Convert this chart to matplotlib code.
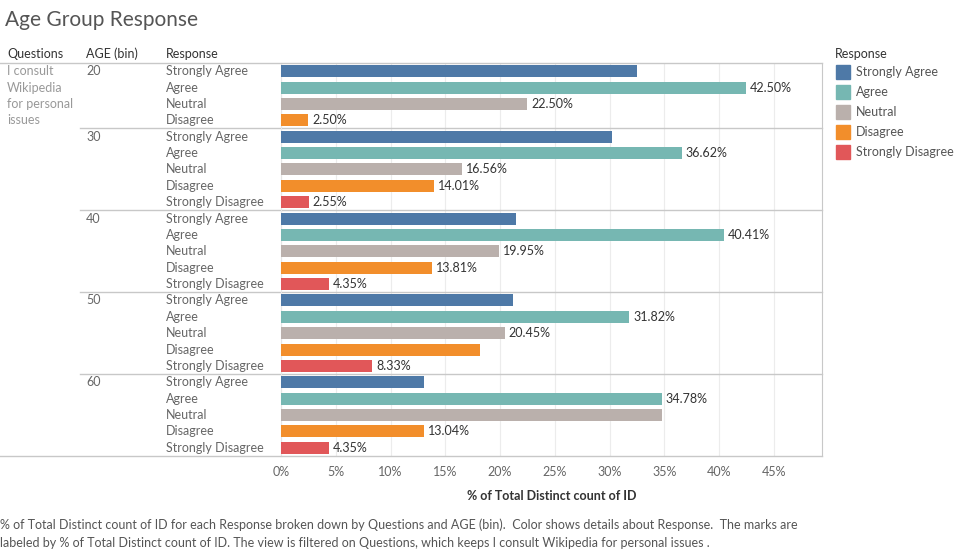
import matplotlib.pyplot as plt
from matplotlib.transforms import blended_transform_factory
from matplotlib.patches import Rectangle

# data
ages = ['20', '30', '40', '50', '60']
responses = ['Strongly Agree', 'Agree', 'Neutral', 'Disagree', 'Strongly Disagree']
colors = ['#4e79a7', '#76b7b2', '#bab0ac', '#f28e2b', '#e15759']

pct_20 = [32.50, 42.50, 22.50, 2.50]
pct_30 = [30.26, 36.62, 16.56, 14.01, 2.55]
pct_40 = [21.48, 40.41, 19.95, 13.81, 4.35]
pct_50 = [21.21, 31.82, 20.45, 18.18, 8.33]
pct_60 = [13.04, 34.78, 34.78, 13.04, 4.35]
groups = [pct_20, pct_30, pct_40, pct_50, pct_60]

# which bars carry a value label in the original
shown_20 = [0, 1, 1, 1]
shown_30 = [0, 1, 1, 1, 1]
shown_40 = [0, 1, 1, 1, 1]
shown_50 = [0, 1, 1, 0, 1]
shown_60 = [0, 1, 0, 1, 1]
shown = [shown_20, shown_30, shown_40, shown_50, shown_60]

xticks = [0, 5, 10, 15, 20, 25, 30, 35, 40, 45]

plt.rcParams['font.family'] = ['Lato', 'DejaVu Sans']

W, H = 973, 553
fig = plt.figure(figsize=(W / 100, H / 100), dpi=100)
x0, x1, y0, y1 = 281, 822, 63, 456
ax = fig.add_axes([x0 / W, 1 - y1 / H, (x1 - x0) / W, (y1 - y0) / H])

nrows = sum(len(g) for g in groups)
ax.set_ylim(nrows, 0)
ax.set_xlim(0, 49.4)

fx = blended_transform_factory(fig.transFigure, ax.transData)
def px(x):
    return x / W

row = 0
bounds = []
for gi, (vals, flags) in enumerate(zip(groups, shown)):
    fig.text(px(86), row + 0.5, ages[gi], transform=fx, fontsize=9,
             color='#666666', va='center')
    for ri, v in enumerate(vals):
        yc = row + 0.5
        ax.barh(yc, v, height=0.74, color=colors[ri], zorder=3)
        fig.text(px(166), yc, responses[ri], transform=fx, fontsize=9,
                 color='#666666', va='center')
        if flags[ri]:
            ax.text(v + 0.35, yc, '%.2f%%' % v, fontsize=9, color='#333333',
                    va='center', zorder=4)
        row += 1
    bounds.append(row)

# question text
q_lines = ['I consult', 'Wikipedia', 'for personal', 'issues']
for i, t in enumerate(q_lines):
    fig.text(px(7), i + 0.5, t, transform=fx, fontsize=9, color='#999999', va='center')

# header
for x, t in [(7, 'Questions'), (86, 'AGE (bin)'), (166, 'Response')]:
    fig.text(px(x), 1 - 54 / H, t, fontsize=9, color='#333333', va='center')

# separators
fig.add_artist(plt.Line2D([0, px(x1)], [1 - y0 / H, 1 - y0 / H], color='#c8c8c8', lw=1))
fig.add_artist(plt.Line2D([0, px(x1)], [1 - y1 / H, 1 - y1 / H], color='#c8c8c8', lw=1))
for b in bounds[:-1]:
    ax.plot([px(80), px(x1)], [b, b], transform=fx, color='#c8c8c8', lw=1, clip_on=False)

for s in ['top', 'bottom']:
    ax.spines[s].set_visible(False)
ax.spines['left'].set_color('#e6e6e6')
ax.spines['right'].set_color('#c8c8c8')
ax.set_yticks([])
ax.set_xticks(xticks)
ax.set_xticklabels(['%d%%' % t for t in xticks], fontsize=9, color='#666666')
ax.tick_params(axis='x', length=0, pad=7)
ax.grid(axis='x', color='#ececec', lw=0.8, zorder=0)
ax.set_xlabel('% of Total Distinct count of ID', fontsize=9, color='#333333',
              fontweight='bold', labelpad=9)

# title
fig.text(px(5), 1 - 20 / H, 'Age Group Response', fontsize=15, color='#555555', va='center')

# legend
fig.text(px(835), 1 - 54 / H, 'Response', fontsize=9, color='#333333', va='center')
for i, (r, c) in enumerate(zip(responses, colors)):
    yc = 72 + 20 * i
    fig.add_artist(Rectangle((px(836), 1 - (yc + 7) / H), 14 / W, 14 / H,
                             transform=fig.transFigure, color=c))
    fig.text(px(856), 1 - yc / H, r, fontsize=9, color='#555555', va='center')

# caption
cap1 = ('% of Total Distinct count of ID for each Response broken down by Questions and AGE (bin).  '
        'Color shows details about Response.  The marks are')
cap2 = ('labeled by % of Total Distinct count of ID. The view is filtered on Questions, '
        'which keeps I consult Wikipedia for personal issues .')
fig.text(0, 1 - 525 / H, cap1, fontsize=9, color='#555555', va='center')
fig.text(0, 1 - 543 / H, cap2, fontsize=9, color='#555555', va='center')

fig.savefig('out.png', dpi=100)
